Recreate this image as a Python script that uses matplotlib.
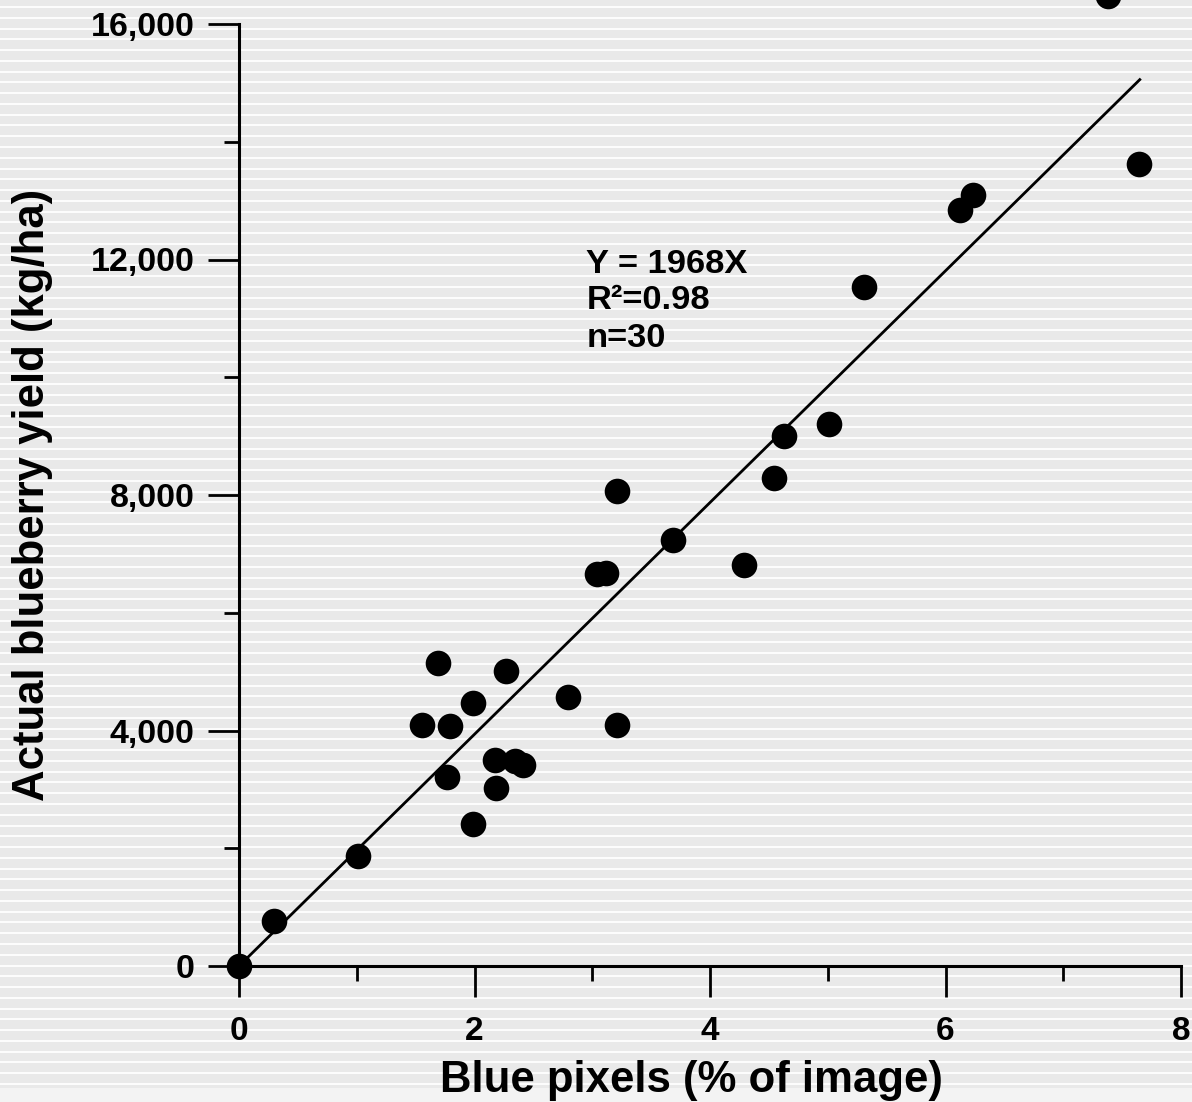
import numpy as np
import matplotlib
matplotlib.use("Agg")
import matplotlib.pyplot as plt
from matplotlib.ticker import MultipleLocator, FuncFormatter

plt.rcParams['font.family'] = ['Liberation Sans', 'DejaVu Sans']
plt.rcParams['font.weight'] = 'bold'

# data
blue_pct = [0.0, 0.30, 1.01, 1.55, 1.79, 1.69, 1.77, 1.99, 2.27, 2.17, 2.18,
            1.99, 2.34, 2.41, 2.79, 3.21, 3.04, 3.12, 3.21, 3.69, 4.29, 4.54,
            4.63, 5.01, 5.31, 6.12, 6.23, 7.38, 7.64]
yield_kg = [0, 760, 1870, 4090, 4080, 5150, 3210, 4470, 5010, 3500, 3020,
            2410, 3480, 3410, 4570, 4090, 6660, 6680, 8070, 7240, 6810, 8290,
            9000, 9210, 11530, 12840, 13100, 16480, 13620]
slope = 1968
fit_x = [0, 7.65]
stats_lines = ["Y = 1968X", "R\u00b2=0.98", "n=30"]

W, H = 1192, 1102
fig = plt.figure(figsize=(W / 100, H / 100), dpi=100)
fig.patch.set_facecolor('#e9e9e9')

# striped backdrop
bg = fig.add_axes([0, 0, 1, 1], zorder=-5)
bg.set_xlim(0, W)
bg.set_ylim(H, 0)
bg.axis('off')
bg.axhspan(1088, H, color='#f3f3f3', lw=0)
bg.hlines(np.linspace(7, 1084, 101), 0, W, color='white', lw=1.5, alpha=0.9)

ax = fig.add_axes([239 / W, (H - 966) / H, (1181 - 239) / W, (966 - 24) / H])
ax.set_facecolor('none')

ax.plot(fit_x, [slope * v for v in fit_x], color='black', lw=2.0, zorder=2)
ax.scatter(blue_pct, yield_kg, s=340, color='black', zorder=3, clip_on=False,
           linewidths=0)

ax.set_xlim(0, 8)
ax.set_ylim(0, 16000)
for s in ['top', 'right']:
    ax.spines[s].set_visible(False)
for s in ['left', 'bottom']:
    ax.spines[s].set_linewidth(2.2)

ax.xaxis.set_major_locator(MultipleLocator(2))
ax.xaxis.set_minor_locator(MultipleLocator(1))
ax.yaxis.set_major_locator(MultipleLocator(4000))
ax.yaxis.set_minor_locator(MultipleLocator(2000))
ax.yaxis.set_major_formatter(FuncFormatter(lambda v, p: f"{int(v):,}"))

ax.tick_params(which='major', length=22, width=2.0, direction='out')
ax.tick_params(which='minor', length=11, width=2.0, direction='out')
ax.tick_params(axis='y', which='major', labelsize=24.5, pad=10)
ax.tick_params(axis='x', which='major', labelsize=24, pad=14)

ax.set_xlabel("Blue pixels (% of image)", fontsize=31.5, fontweight='bold')
ax.xaxis.set_label_coords(0.48, -0.10)
ax.set_ylabel("Actual blueberry yield (kg/ha)", fontsize=31.5, fontweight='bold')
ax.yaxis.set_label_coords(-0.197, 0.5)

for txt, yy in zip(stats_lines, [11771, 11160, 10514]):
    ax.text(2.95, yy, txt, fontsize=24.8, fontweight='bold', va='baseline')

fig.savefig('out.png', dpi=100, facecolor=fig.get_facecolor())
